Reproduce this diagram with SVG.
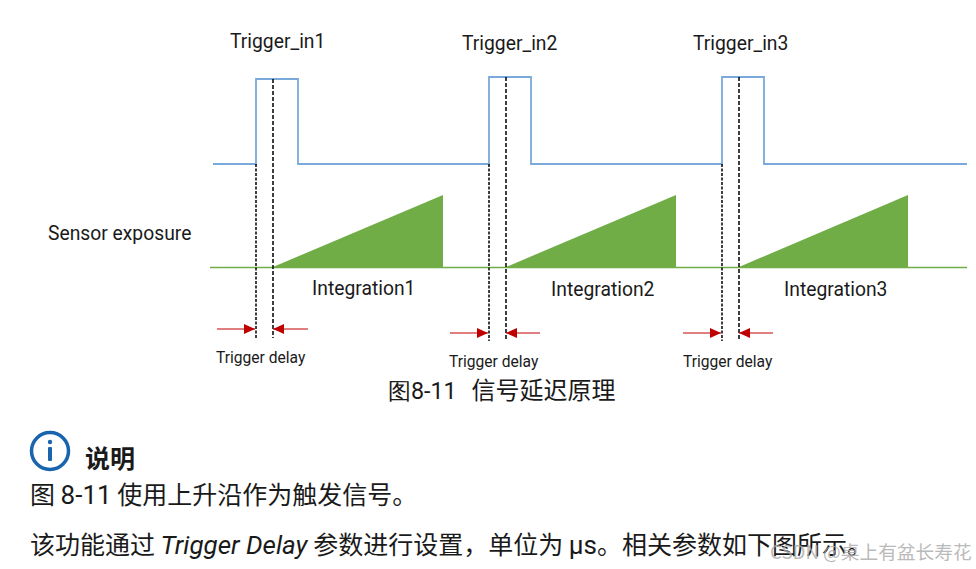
<svg xmlns="http://www.w3.org/2000/svg" width="976" height="569" viewBox="0 0 976 569">
<style>
.t{font-family:Roboto,"Liberation Sans",sans-serif;fill:#1a1a1a}
.s{font-size:19.300px}
.m{font-size:15.600px}
.c{font-family:"Noto Sans CJK SC",Roboto,sans-serif;fill:#1a1a1a}
.l{font-family:Roboto,sans-serif;font-size:26px}
.sig{fill:none;stroke:#7aa9dc;stroke-width:1.800}
.dash{stroke:#000;stroke-width:1.500;stroke-dasharray:4 2;fill:none}
.fine{stroke:#000;stroke-width:1.500;stroke-dasharray:3 1.500;fill:none}
.del{stroke:#c00000;stroke-width:1.200;fill:none;marker-end:url(#a)}
.ramp{fill:#70ad47}
</style>
<defs>
<marker id="a" markerUnits="userSpaceOnUse" markerWidth="11" markerHeight="10" refX="11" refY="5" orient="auto"><path d="M0 0L11 5L0 10Z" fill="#c00000"/></marker>
</defs>
<rect width="976" height="569" fill="#fff"/>
<g id="signals">
<path class="sig" d="M213 164H256V79H298V164H489V77H531V164H722V77H764V164H967"/>
<path d="M210 267.500H967" stroke="#70ad47" stroke-width="1.600" fill="none"/>
<path class="ramp" d="M273 267L443 195V268H273Z"/>
<path class="ramp" d="M506 267L676 195V268H506Z"/>
<path class="ramp" d="M739 267L908 195V268H739Z"/>
</g>
<g id="connectors">
<path class="fine" d="M256 164V338M489 164V341M722 164V341"/>
<path class="dash" d="M273 79V338M506 77V341M739 77V341"/>
<path class="del" d="M217 329H255"/><path class="del" d="M308 329H273"/>
<path class="del" d="M450 333H488"/><path class="del" d="M540 333H506"/>
<path class="del" d="M683 333H721"/><path class="del" d="M773 333H739"/>
</g>
<g id="labels">
<text class="t s" x="230" y="48">Trigger_in1</text>
<text class="t s" x="462" y="50">Trigger_in2</text>
<text class="t s" x="693" y="50">Trigger_in3</text>
<text class="t s" x="48" y="240">Sensor exposure</text>
<text class="t s" x="312" y="295">Integration1</text>
<text class="t s" x="551" y="296">Integration2</text>
<text class="t s" x="784" y="296">Integration3</text>
<text class="t m" x="216" y="363">Trigger delay</text>
<text class="t m" x="449" y="367">Trigger delay</text>
<text class="t m" x="683" y="367">Trigger delay</text>
<text class="c" x="388" y="399" font-size="24"><tspan font-family="Roboto,sans-serif" font-size="23.300">图8-11</tspan><tspan x="471.500">信号延迟原理</tspan></text>
</g>
<g id="note-icon">
<circle cx="50" cy="451" r="18.500" fill="none" stroke="#1a64ae" stroke-width="3.500"/>
<circle cx="50" cy="442" r="2.200" fill="#1a64ae"/>
<rect x="48" y="447" width="4" height="14" rx="1" fill="#1a64ae"/>
</g>
<g id="note-text">
<text class="c" x="85" y="468" font-size="25" font-weight="700" fill="#333">说明</text>
<text class="c" x="30" y="504" font-size="25">图 <tspan class="l">8-11</tspan> 使用上升沿作为触发信号。</text>
<text class="c" x="30" y="554" font-size="25">该功能通过 <tspan class="l" font-style="italic">Trigger Delay</tspan> 参数进行设置，单位为 <tspan class="l">μs</tspan>。相关参数如下图所示。</text>
<text class="c" x="770" y="559" font-size="18.700" style="fill:#aaa" opacity="0.8">CSDN @桌上有盆长寿花</text>
</g>
</svg>
